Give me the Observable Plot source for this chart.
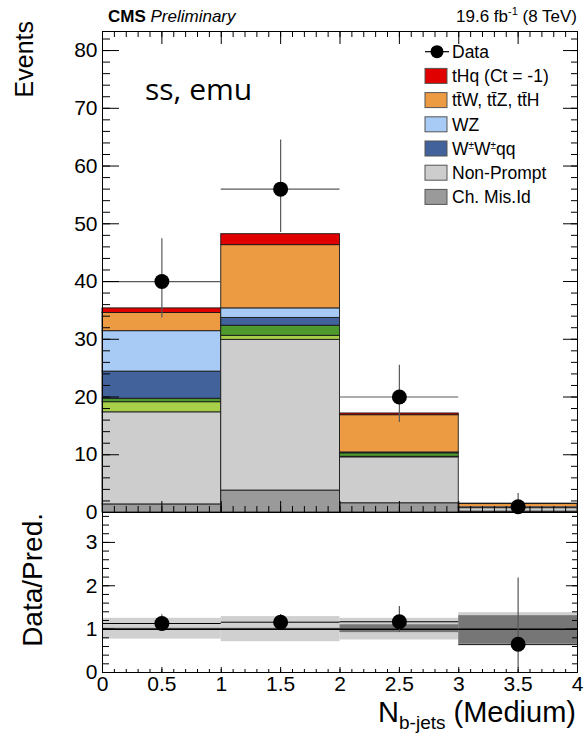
<!DOCTYPE html>
<html><head><meta charset="utf-8">
<script src="https://cdn.jsdelivr.net/npm/d3@7"></script>
<script src="https://cdn.jsdelivr.net/npm/@observablehq/plot@0.6"></script>
<style>
body{margin:0;background:#fff;}
#wrap{position:relative;width:585px;height:737px;overflow:hidden;background:#fff;}
.pane{position:absolute;left:0;}
</style></head><body><div id="wrap"></div>
<script>
// ---- data ----
const binEdges = [0, 1, 2, 3, 4];
const processes = ["Ch. Mis.Id", "Non-Prompt", "ZZ", "Rare", "W±W±qq", "WZ", "ttV", "tHq (Ct = -1)"];
const processColors = ["#9a9a9a", "#cdcdcd", "#a7cf4a", "#4f9a2f", "#41629b", "#a8cbf6", "#ec9b43", "#e00000"];
const chMisId   = [1.4, 3.8, 1.6, 0.15];
const nonPrompt = [15.95, 26.1, 7.95, 0.6];
const zz        = [1.75, 0.7, 0.1, 0.02];
const rare      = [0.6, 1.75, 0.6, 0.05];
const wwqq      = [4.7, 1.35, 0.05, 0.02];
const wz        = [7.0, 1.65, 0.1, 0.02];
const ttv       = [3.15, 10.95, 6.45, 0.6];
const thq       = [0.8, 1.9, 0.3, 0.08];
const dataCounts  = [40, 56, 20, 1];
const dataErrLow  = [6.3, 7.5, 4.4, 0.8];
const dataErrHigh = [7.4, 8.5, 5.5, 2.3];
const ratioValues  = [1.13, 1.16, 1.17, 0.65];
const ratioErrLow  = [0.17, 0.15, 0.25, 0.55];
const ratioErrHigh = [0.2, 0.18, 0.35, 1.53];
const bandTotalLow  = [0.77, 0.71, 0.75, 0.61];
const bandTotalHigh = [1.25, 1.29, 1.25, 1.38];
const bandStatLow   = [0.98, 0.98, 0.92, 0.66];
const bandStatHigh  = [1.02, 1.02, 1.10, 1.31];
const yTicksTop   = [0, 10, 20, 30, 40, 50, 60, 70, 80];
const yMinorTop   = d3.range(0, 84, 2);
const yTicksRatio = [0, 1, 2, 3];
const yMinorRatio = d3.range(0, 3.7, 0.2);
const xTicks      = [0, 0.5, 1, 1.5, 2, 2.5, 3, 3.5, 4];
const xMinor      = d3.range(0, 4.001, 0.1);
const legendLabels = ["Data", "tHq (Ct = -1)", "tt\u0304W, tt\u0304Z, tt\u0304H", "WZ", "W±W±qq", "Non-Prompt", "Ch. Mis.Id"];
const legendColors = [null, "#e00000", "#ec9b43", "#a8cbf6", "#41629b", "#cdcdcd", "#9a9a9a"];

// ---- derived tables ----
const layers = [chMisId, nonPrompt, zz, rare, wwqq, wz, ttv, thq];
const stackRows = [];
for (let i = 0; i < binEdges.length - 1; i++) {
  let base = 0;
  layers.forEach((arr, j) => {
    stackRows.push({process: processes[j], x1: binEdges[i], x2: binEdges[i + 1], y1: base, y2: base + arr[i]});
    base += arr[i];
  });
}
const dataRows = dataCounts.map((v, i) => ({
  x1: binEdges[i], x2: binEdges[i + 1], xc: (binEdges[i] + binEdges[i + 1]) / 2,
  v, lo: v - dataErrLow[i], hi: v + dataErrHigh[i]
}));
const ratioRows = ratioValues.map((r, i) => ({
  x1: binEdges[i], x2: binEdges[i + 1], xc: (binEdges[i] + binEdges[i + 1]) / 2,
  r, lo: r - ratioErrLow[i], hi: r + ratioErrHigh[i],
  tlo: bandTotalLow[i], thi: bandTotalHigh[i], slo: bandStatLow[i], shi: bandStatHigh[i]
}));

const FONT = "Liberation Sans, Arial, Helvetica, sans-serif";
const fmt = d => String(d);
// inward-pointing ticks: draw outward ticks then shift them inside the frame
function inTicks(fn, anchor, values, size) {
  const shift = {left: {dx: size}, right: {dx: -size}, top: {dy: size}, bottom: {dy: -size}}[anchor];
  return fn(values, {anchor, tickSize: size, tickFormat: () => "", label: null, stroke: "#000", ...shift});
}

const wrap = document.getElementById("wrap");

// ---- top panel ----
const mainPlot = Plot.plot({
  width: 585, height: 520,
  marginLeft: 102, marginRight: 8, marginTop: 31, marginBottom: 8,
  style: {background: "transparent", overflow: "visible", fontFamily: FONT, fontSize: "21px", color: "#000"},
  x: {domain: [0, 4]},
  y: {domain: [0, 83.3]},
  color: {domain: processes, range: processColors},
  marks: [
    Plot.rect(stackRows, {x1: "x1", x2: "x2", y1: "y1", y2: "y2", fill: "process", stroke: "#1a1a1a", strokeWidth: 0.9}),
    Plot.ruleY(dataRows, {x1: "x1", x2: "x2", y: "v", stroke: "#5a5a5a", strokeWidth: 1.2}),
    Plot.ruleX(dataRows, {x: "xc", y1: "lo", y2: "hi", stroke: "#5a5a5a", strokeWidth: 1.2}),
    Plot.dot(dataRows, {x: "xc", y: "v", r: 7.5, fill: "#000"}),
    inTicks(Plot.axisY, "left", yTicksTop, 17),
    inTicks(Plot.axisY, "left", yMinorTop, 8),
    inTicks(Plot.axisY, "right", yTicksTop, 15),
    inTicks(Plot.axisY, "right", yMinorTop, 7),
    inTicks(Plot.axisX, "top", xTicks, 12),
    inTicks(Plot.axisX, "top", xMinor, 5),
    inTicks(Plot.axisX, "bottom", xTicks, 11),
    inTicks(Plot.axisX, "bottom", xMinor, 6),
    Plot.axisY(yTicksTop, {anchor: "left", tickSize: 0, tickPadding: 5, tickFormat: fmt, label: null}),
    Plot.frame({stroke: "#000"})
  ]
});
mainPlot.classList.add("pane");
mainPlot.style.top = "0px";
wrap.appendChild(mainPlot);

// ---- ratio panel ----
const ratioPlot = Plot.plot({
  width: 585, height: 237,
  marginLeft: 102, marginRight: 8, marginTop: 12, marginBottom: 65,
  style: {background: "transparent", overflow: "visible", fontFamily: FONT, fontSize: "21px", color: "#000"},
  x: {domain: [0, 4]},
  y: {domain: [0, 3.69]},
  marks: [
    Plot.rect(ratioRows, {x1: "x1", x2: "x2", y1: "tlo", y2: "thi", fill: "#d0d0d0"}),
    Plot.rect(ratioRows, {x1: "x1", x2: "x2", y1: "slo", y2: "shi", fill: "#767676"}),
    Plot.ruleY([1], {stroke: "#000", strokeWidth: 1.5}),
    Plot.ruleY(ratioRows, {x1: "x1", x2: "x2", y: "r", stroke: "#000", strokeWidth: 1}),
    Plot.ruleX(ratioRows, {x: "xc", y1: "lo", y2: "hi", stroke: "#555", strokeWidth: 1.2}),
    Plot.dot(ratioRows, {x: "xc", y: "r", r: 7.5, fill: "#000"}),
    inTicks(Plot.axisY, "left", yTicksRatio, 13),
    inTicks(Plot.axisY, "left", yMinorRatio, 7),
    inTicks(Plot.axisY, "right", yTicksRatio, 12),
    inTicks(Plot.axisY, "right", yMinorRatio, 6),
    inTicks(Plot.axisX, "bottom", xTicks, 5),
    inTicks(Plot.axisX, "bottom", xMinor, 3),
    Plot.axisY(yTicksRatio, {anchor: "left", tickSize: 0, tickPadding: 5, tickFormat: fmt, label: null}),
    Plot.axisX(xTicks, {anchor: "bottom", tickSize: 0, tickPadding: 4, tickFormat: fmt, label: null}),
    Plot.frame({stroke: "#000"})
  ]
});
ratioPlot.classList.add("pane");
ratioPlot.style.top = "500px";
wrap.appendChild(ratioPlot);

// ---- text overlay & legend ----
const ov = d3.select(wrap).append("svg")
  .attr("width", 585).attr("height", 737)
  .style("position", "absolute").style("left", 0).style("top", 0)
  .attr("font-family", FONT).attr("fill", "#000");

const cms = ov.append("text").attr("x", 108).attr("y", 22).attr("font-size", 17);
cms.append("tspan").attr("font-weight", "bold").text("CMS");
cms.append("tspan").attr("font-style", "italic").text(" Preliminary");

const lumi = ov.append("text").attr("x", 577).attr("y", 22).attr("font-size", 17).attr("text-anchor", "end");
lumi.append("tspan").text("19.6 fb");
lumi.append("tspan").attr("font-size", 11).attr("dy", -7).text("-1");
lumi.append("tspan").attr("dy", 7).text(" (8 TeV)");

ov.append("text").attr("x", 145).attr("y", 100).attr("font-family", "Open Sans, sans-serif")
  .attr("font-size", 30).text("ss, emu");

ov.append("text").attr("transform", "translate(33,21) rotate(-90)").attr("text-anchor", "end")
  .attr("font-size", 25).text("Events");
ov.append("text").attr("transform", "translate(42,513) rotate(-90)").attr("text-anchor", "end")
  .attr("font-size", 28).text("Data/Pred.");

const xl = ov.append("text").attr("x", 576).attr("y", 722).attr("text-anchor", "end").attr("font-size", 29);
xl.append("tspan").text("N");
xl.append("tspan").attr("font-size", 19).attr("dy", 7).text("b-jets");
xl.append("tspan").attr("dy", -7).text(" (Medium)");

const leg = ov.append("g");
legendLabels.forEach((lab, i) => {
  const cy = 51.7 + i * 24.2;
  if (legendColors[i] === null) {
    leg.append("line").attr("x1", 425).attr("x2", 449).attr("y1", cy).attr("y2", cy).attr("stroke", "#000").attr("stroke-width", 1.2);
    leg.append("circle").attr("cx", 437).attr("cy", cy).attr("r", 6.5).attr("fill", "#000");
  } else {
    leg.append("rect").attr("x", 425).attr("y", cy - 7.5).attr("width", 22).attr("height", 15)
      .attr("fill", legendColors[i]).attr("stroke", "#555").attr("stroke-width", 1);
  }
  const t = leg.append("text").attr("x", 452).attr("y", cy + 6.3).attr("font-size", 17.5);
  if (lab.includes("±")) {
    const parts = lab.split("±");
    parts.forEach((p, k) => {
      t.append("tspan").attr("dy", k === 0 ? 0 : 6).text(p);
      if (k < parts.length - 1) t.append("tspan").attr("font-size", 10).attr("dy", -6).text("±");
    });
  } else {
    t.text(lab);
  }
});
</script>
</body></html>
